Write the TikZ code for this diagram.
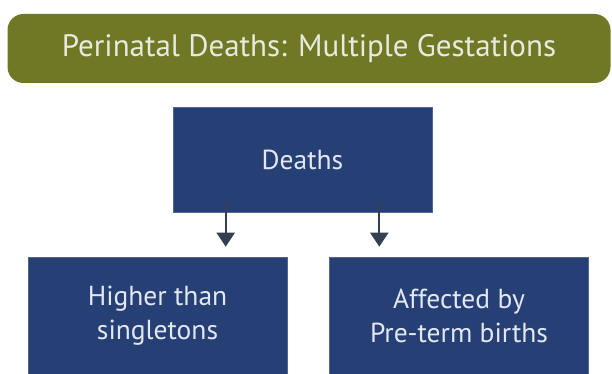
\documentclass[tikz,border=0pt]{standalone}
\usepackage{fontspec}
\setmainfont{PT Sans}
\usepackage{xcolor}
\definecolor{BannerFill}{RGB}{112,120,38}
\definecolor{BannerText}{RGB}{232,234,222}
\definecolor{BoxFill}{RGB}{38,64,118}
\definecolor{BoxText}{RGB}{226,231,241}
\definecolor{ArrowColor}{RGB}{52,64,82}
\usepackage{tikz}
\usetikzlibrary{
  positioning,
  arrows.meta,
  calc
}
\tikzset{
  % Title banner
  banner/.style={
    rectangle,
    rounded corners=16pt,
    fill=BannerFill,
    minimum width=603pt,
    minimum height=69pt,
    inner sep=0pt,
    text=BannerText,
    font=\fontsize{31}{35}\selectfont
  },
  % Blue box
  bbox/.style={
    rectangle,
    fill=BoxFill,
    draw=BoxFill!80!white,
    line width=0.6pt,
    minimum width=259pt,
    inner sep=0pt,
    align=center,
    text=BoxText,
    font=\fontsize{27.5}{34}\selectfont
  },
  % Down arrow
  darrow/.style={
    draw=ArrowColor,
    line width=2pt,
    -{Triangle[width=18pt,length=14pt]}
  }
}
\begin{document}
\begin{tikzpicture}[x=1pt,y=-1pt]
  \useasboundingbox (0,0) rectangle (612,374);
  \node[banner] (title) at (309,48.5) {Perinatal Deaths: Multiple Gestations};
  \node[bbox, minimum height=105pt] (deaths) at (302.5,159.5) {Deaths};
  \node[bbox, minimum height=117pt] (higher) at (157.5,315.5) {Higher than\\singletons};
  \node[bbox, minimum height=117pt] (preterm) at (459,315.5) {Affected by\\Pre-term births};
  \draw[darrow] ([xshift=53pt,yshift=10pt]deaths.south west)
    -- ([xshift=53pt]deaths.south west |- {$(higher.north)+(0,-10)$});
  \draw[darrow] ([xshift=-53pt,yshift=10pt]deaths.south east)
    -- ([xshift=-53pt]deaths.south east |- {$(preterm.north)+(0,-10)$});
\end{tikzpicture}
\end{document}
